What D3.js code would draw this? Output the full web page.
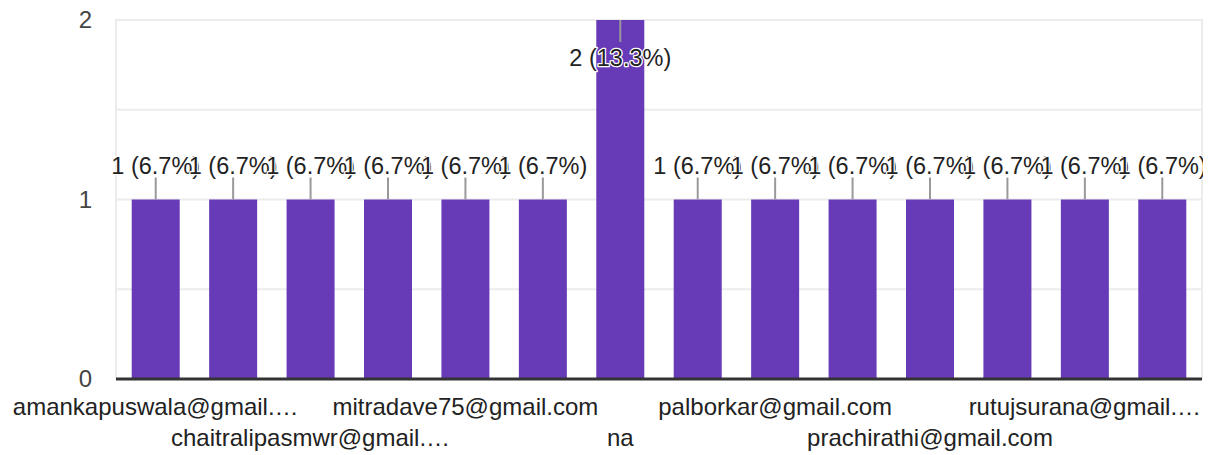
<!DOCTYPE html>
<html>
<head>
<meta charset="utf-8">
<script src="https://cdn.jsdelivr.net/npm/d3@7"></script>
<style>
  html, body { margin: 0; padding: 0; background: #fff; }
  svg { display: block; font-family: Arial, "Liberation Sans", sans-serif; }
</style>
</head>
<body>
<svg id="chart" width="1209" height="455"></svg>
<script>
// Responses per email address (14 answers, 15 responses in total)
const categories = [
  "amankapuswala@gmail.…", "", "chaitralipasmwr@gmail.…", "",
  "mitradave75@gmail.com", "", "na", "",
  "palborkar@gmail.com", "", "prachirathi@gmail.com", "",
  "rutujsurana@gmail.…", ""
];
const counts = [1, 1, 1, 1, 1, 1, 2, 1, 1, 1, 1, 1, 1, 1];
const percents = ["6.7%", "6.7%", "6.7%", "6.7%", "6.7%", "6.7%", "13.3%",
                  "6.7%", "6.7%", "6.7%", "6.7%", "6.7%", "6.7%", "6.7%"];
const yTicks = [0, 1, 2];
const yGrid = [0.5, 1, 1.5, 2];

const svg = d3.select("#chart");
const plot = { left: 117, right: 1201, top: 20, bottom: 379 };

const x = d3.scaleBand()
  .domain(d3.range(counts.length))
  .range([plot.left, plot.right])
  .paddingInner(0.38)
  .paddingOuter(0.19);

const y = d3.scaleLinear()
  .domain([0, 2])
  .range([plot.bottom, plot.top]);

// gridlines
svg.append("g").selectAll("line.h")
  .data(yGrid)
  .join("line")
  .attr("x1", plot.left - 1).attr("x2", plot.right + 1)
  .attr("y1", d => y(d)).attr("y2", d => y(d))
  .attr("stroke", "#ececec").attr("stroke-width", 2);

svg.append("g").selectAll("line.v")
  .data([plot.left - 1, plot.right + 1])
  .join("line")
  .attr("x1", d => d).attr("x2", d => d)
  .attr("y1", plot.top - 1).attr("y2", plot.bottom)
  .attr("stroke", "#ececec").attr("stroke-width", 2);

// y-axis tick labels
svg.append("g").selectAll("text")
  .data(yTicks)
  .join("text")
  .attr("x", 92)
  .attr("y", d => y(d))
  .attr("dy", "0.35em")
  .attr("text-anchor", "end")
  .attr("font-size", 24)
  .attr("fill", "#444")
  .text(d => d);

// bars
svg.append("g").selectAll("rect")
  .data(counts)
  .join("rect")
  .attr("x", (d, i) => x(i))
  .attr("width", x.bandwidth())
  .attr("y", d => y(d))
  .attr("height", d => y(0) - y(d))
  .attr("fill", "#673ab7");

// baseline
svg.append("line")
  .attr("x1", plot.left - 1).attr("x2", plot.right + 1)
  .attr("y1", y(0)).attr("y2", y(0))
  .attr("stroke", "#333").attr("stroke-width", 3);

// value annotations with stems
svg.append("clipPath").attr("id", "annClip")
  .append("rect").attr("x", 0).attr("y", 0).attr("width", plot.right + 2).attr("height", 455);

const ann = svg.append("g").attr("clip-path", "url(#annClip)");
const maxV = d3.max(counts);
const stemLen = 22;

counts.forEach((v, i) => {
  const cx = x(i) + x.bandwidth() / 2;
  const top = y(v);
  const inside = v === maxV; // tallest bar: annotation hangs below the top
  const stemEnd = inside ? top + stemLen : top - stemLen;
  ann.append("line")
    .attr("x1", cx).attr("x2", cx)
    .attr("y1", top).attr("y2", stemEnd)
    .attr("stroke", "#999").attr("stroke-width", 2);
  ann.append("text")
    .attr("x", cx)
    .attr("y", inside ? stemEnd + 24 : stemEnd - 4)
    .attr("text-anchor", "middle")
    .attr("font-size", 23.5)
    .attr("fill", "#222")
    .attr("stroke", "#fff")
    .attr("stroke-width", 2.5)
    .attr("paint-order", "stroke")
    .attr("stroke-linejoin", "round")
    .text(`${v} (${percents[i]})`);
});

// category labels, staggered on two rows
svg.append("g").selectAll("text")
  .data(categories.map((c, i) => ({ c, i })).filter(d => d.c !== ""))
  .join("text")
  .attr("x", d => x(d.i) + x.bandwidth() / 2)
  .attr("y", (d, k) => k % 2 === 0 ? 415 : 446)
  .attr("text-anchor", "middle")
  .attr("font-size", 24)
  .attr("fill", "#222")
  .text(d => d.c);
</script>
</body>
</html>
